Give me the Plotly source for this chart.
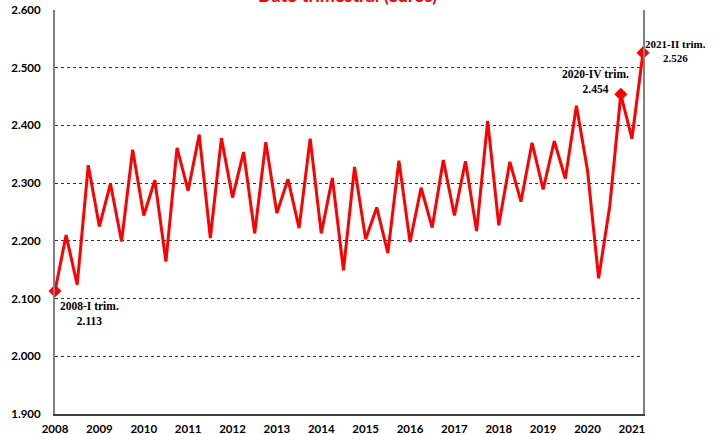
import plotly.graph_objects as go

years = list(range(2008, 2022))
quarters_per_year = [4] * 13 + [2]
values = [
    2.113, 2.210, 2.124, 2.331,
    2.225, 2.299, 2.199, 2.358,
    2.244, 2.305, 2.164, 2.361,
    2.287, 2.384, 2.205, 2.378,
    2.275, 2.354, 2.213, 2.371,
    2.248, 2.307, 2.222, 2.377,
    2.213, 2.309, 2.149, 2.328,
    2.203, 2.258, 2.179, 2.339,
    2.198, 2.292, 2.223, 2.340,
    2.244, 2.338, 2.217, 2.408,
    2.227, 2.337, 2.268, 2.370,
    2.289, 2.373, 2.308, 2.434,
    2.322, 2.135, 2.260, 2.454,
    2.377, 2.526,
]
y_ticks = [1.9, 2.0, 2.1, 2.2, 2.3, 2.4, 2.5, 2.6]
highlight_idx = [0, 51, 53]
highlight_labels = ["2008-I trim.<br>2.113", "2020-IV trim.<br>2.454", "2021-II trim.<br>2.526"]
title_text = "Dato trimestral (euros)"

x = []
for yr, nq in zip(years, quarters_per_year):
    for q in range(nq):
        x.append(yr + q / 4)

fig = go.Figure()
fig.add_trace(go.Scatter(
    x=x, y=values, mode="lines",
    line=dict(color="#ff0000", width=3),
    hoverinfo="skip", showlegend=False,
))
fig.add_trace(go.Scatter(
    x=[x[i] for i in highlight_idx], y=[values[i] for i in highlight_idx],
    mode="markers",
    marker=dict(symbol="diamond", size=10, color="#ff0000"),
    showlegend=False, hoverinfo="skip", cliponaxis=False,
))

label_font = dict(family="Liberation Serif", size=11.5, color="#000000")
# 2008-I
fig.add_annotation(x=x[0], y=values[0], text="<b>" + highlight_labels[0] + "</b>", showarrow=False,
                   xanchor="left", yanchor="top", xshift=3, yshift=-7,
                   align="center", font=label_font)
# 2020-IV
fig.add_annotation(x=x[51], y=values[51], text="<b>" + highlight_labels[1] + "</b>", showarrow=False,
                   xanchor="center", yanchor="bottom", xshift=-25, yshift=-3,
                   align="center", font=label_font)
# 2021-II
fig.add_annotation(x=x[53], y=values[53], text="<b>" + highlight_labels[2] + "</b>", showarrow=False,
                   xanchor="left", yanchor="bottom", xshift=0, yshift=-13,
                   align="center", font=dict(family="Liberation Serif", size=11, color="#000000"))

fig.add_annotation(xref="paper", yref="paper", x=0.497, y=1.0, yshift=3,
                   text="<b>" + title_text + "</b>", showarrow=False,
                   xanchor="center", yanchor="bottom", borderpad=0,
                   font=dict(family="Lato", size=18, color="#ff0000"))

fig.update_layout(
    width=716, height=434,
    margin=dict(l=55, r=73, t=10, b=20, autoexpand=False),
    paper_bgcolor="white", plot_bgcolor="white",
    font=dict(family="Lato", size=11, color="#000000"),
)
fig.update_xaxes(
    range=[2008, 2021.25], automargin=False,
    tickvals=years, ticktext=[f"<b>{v}</b>" for v in years],
    showgrid=False, zeroline=False,
    showline=True, linecolor="#404040", linewidth=2,
    ticks="", ticklabelstandoff=3,
    tickfont=dict(family="Lato", size=11.5, color="#000000"),
)
fig.update_yaxes(
    range=[1.9, 2.6], automargin=False,
    tickvals=y_ticks, ticktext=[f"<b>{v:.3f}</b>" for v in y_ticks],
    showgrid=True, gridcolor="#333333", griddash="dot", gridwidth=1,
    zeroline=False,
    showline=True, linecolor="#808080", linewidth=2, mirror=True,
    ticks="", ticklabelstandoff=10,
    tickfont=dict(family="Lato", size=11.5, color="#000000"),
)

fig.write_html("out.html", config={"displayModeBar": False},
               post_script="document.body.style.margin='0';")
